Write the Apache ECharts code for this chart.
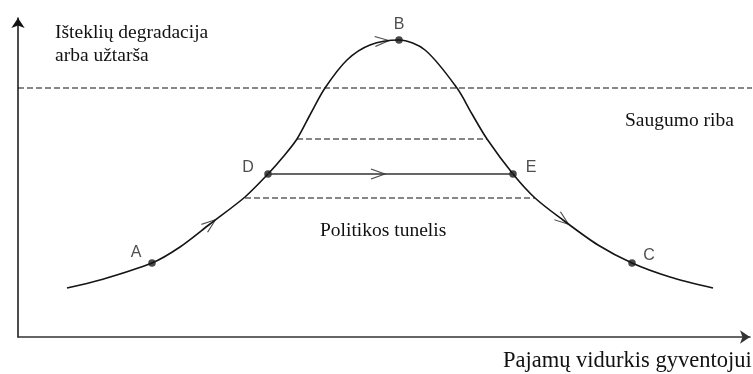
<!DOCTYPE html>
<html>
<head>
<meta charset="UTF-8">
<title></title>
<style>
  html, body { margin: 0; padding: 0; background: #fff; }
</style>
</head>
<body>
<div id="box" style="width: 753px;height: 374px;"></div>
<script src="https://cdn.jsdelivr.net/npm/echarts@6/dist/echarts.min.js"></script>
<script type="text/javascript">
// curve (chart units, origin at the axes corner)
const curveX = [49, 82, 134, 162, 192, 227, 250, 265, 279, 293, 307, 329, 352, 381, 407, 439, 454, 469, 495, 517, 545, 580, 614, 652, 695];
const curveY = [49, 57, 74, 90, 113, 140, 163, 180, 198, 224, 249, 277, 292, 297, 287, 249, 223, 198, 163, 139, 117, 92, 74, 60, 49];

const pointNames = ['A', 'D', 'B', 'E', 'C'];
const pointX = [134, 250, 381, 495, 614];
const pointY = [74, 163, 297, 163, 74];

// safety limit and policy tunnel
const safetyY = 249;
const safetyX = [0, 737];
const tunnelTopY = 198;
const tunnelTopX = [279, 469];
const tunnelBottomY = 139;
const tunnelBottomX = [227, 517];
const pathDEY = 163;
const pathDEX = [250, 495];

// direction arrows on the path
const arrowX = [192, 364, 360, 545];
const arrowY = [113, 296, 163, 117];
const arrowAngle = [38, 4, 0, -37];

const labelOffsets = {
    A: [-16, -10], D: [-20, -6], B: [0, -15], E: [18, -6], C: [17, -7]
};

const chart = echarts.init(document.getElementById('box'));

const serif = 'Liberation Serif';
const sans = 'Liberation Sans';

const option = {
    animation: false,
    grid: { left: 18, top: 18, width: 732, height: 319 },
    xAxis: {
        type: 'value', min: 0, max: 732,
        axisLine: { show: true, symbol: ['none', 'arrow'], symbolSize: [10, 10],
            lineStyle: { color: '#333', width: 1.5 } },
        axisTick: { show: false }, axisLabel: { show: false }, splitLine: { show: false }
    },
    yAxis: {
        type: 'value', min: 0, max: 319,
        axisLine: { show: true, symbol: ['none', 'arrow'], symbolSize: [10, 10],
            lineStyle: { color: '#111', width: 1.5 } },
        axisTick: { show: false }, axisLabel: { show: false }, splitLine: { show: false }
    },
    graphic: [
        { type: 'text', left: 55, top: 23, style: { text: 'Išteklių degradacija', font: '19.5px ' + serif, fill: '#111' } },
        { type: 'text', left: 55, top: 46, style: { text: 'arba užtarša', font: '19.5px ' + serif, fill: '#111' } },
        { type: 'text', left: 625, top: 111, style: { text: 'Saugumo riba', font: '19.5px ' + serif, fill: '#111' } },
        { type: 'text', left: 320, top: 221, style: { text: 'Politikos tunelis', font: '19.5px ' + serif, fill: '#111' } },
        { type: 'text', left: 503, top: 350, style: { text: 'Pajamų vidurkis gyventojui', font: '22.5px ' + serif, fill: '#111' } }
    ],
    series: [
        {
            type: 'line', smooth: 0.3, showSymbol: false, silent: true,
            lineStyle: { color: '#151515', width: 1.6 },
            data: curveX.map((x, i) => [x, curveY[i]])
        },
        {
            type: 'line', showSymbol: false, silent: true, clip: false,
            lineStyle: { color: '#111', width: 1.2, type: [6, 3] },
            data: safetyX.map(x => [x, safetyY])
        },
        {
            type: 'line', showSymbol: false, silent: true,
            lineStyle: { color: '#111', width: 1.2, type: [6, 3] },
            data: tunnelTopX.map(x => [x, tunnelTopY])
        },
        {
            type: 'line', showSymbol: false, silent: true,
            lineStyle: { color: '#111', width: 1.2, type: [6, 3] },
            data: tunnelBottomX.map(x => [x, tunnelBottomY])
        },
        {
            type: 'line', showSymbol: false, silent: true,
            lineStyle: { color: '#333', width: 1.6 },
            data: pathDEX.map(x => [x, pathDEY])
        },
        {
            type: 'scatter', silent: true,
            symbol: 'path://M0,0 L10,5 L0,10',
            symbolSize: [14, 10],
            itemStyle: { color: 'none', borderColor: '#222', borderWidth: 1.2 },
            data: arrowX.map((x, i) => ({ value: [x, arrowY[i]], symbolRotate: arrowAngle[i] }))
        },
        {
            type: 'scatter', silent: true, symbolSize: 7.5,
            itemStyle: { color: '#1a1a1a' },
            label: {
                show: true, position: 'inside', formatter: '{b}',
                fontFamily: sans, fontSize: 16, color: '#222'
            },
            data: pointNames.map((n, i) => ({
                name: n,
                value: [pointX[i], pointY[i]],
                label: { offset: labelOffsets[n] }
            }))
        }
    ]
};

chart.setOption(option);
</script>
</body>
</html>
